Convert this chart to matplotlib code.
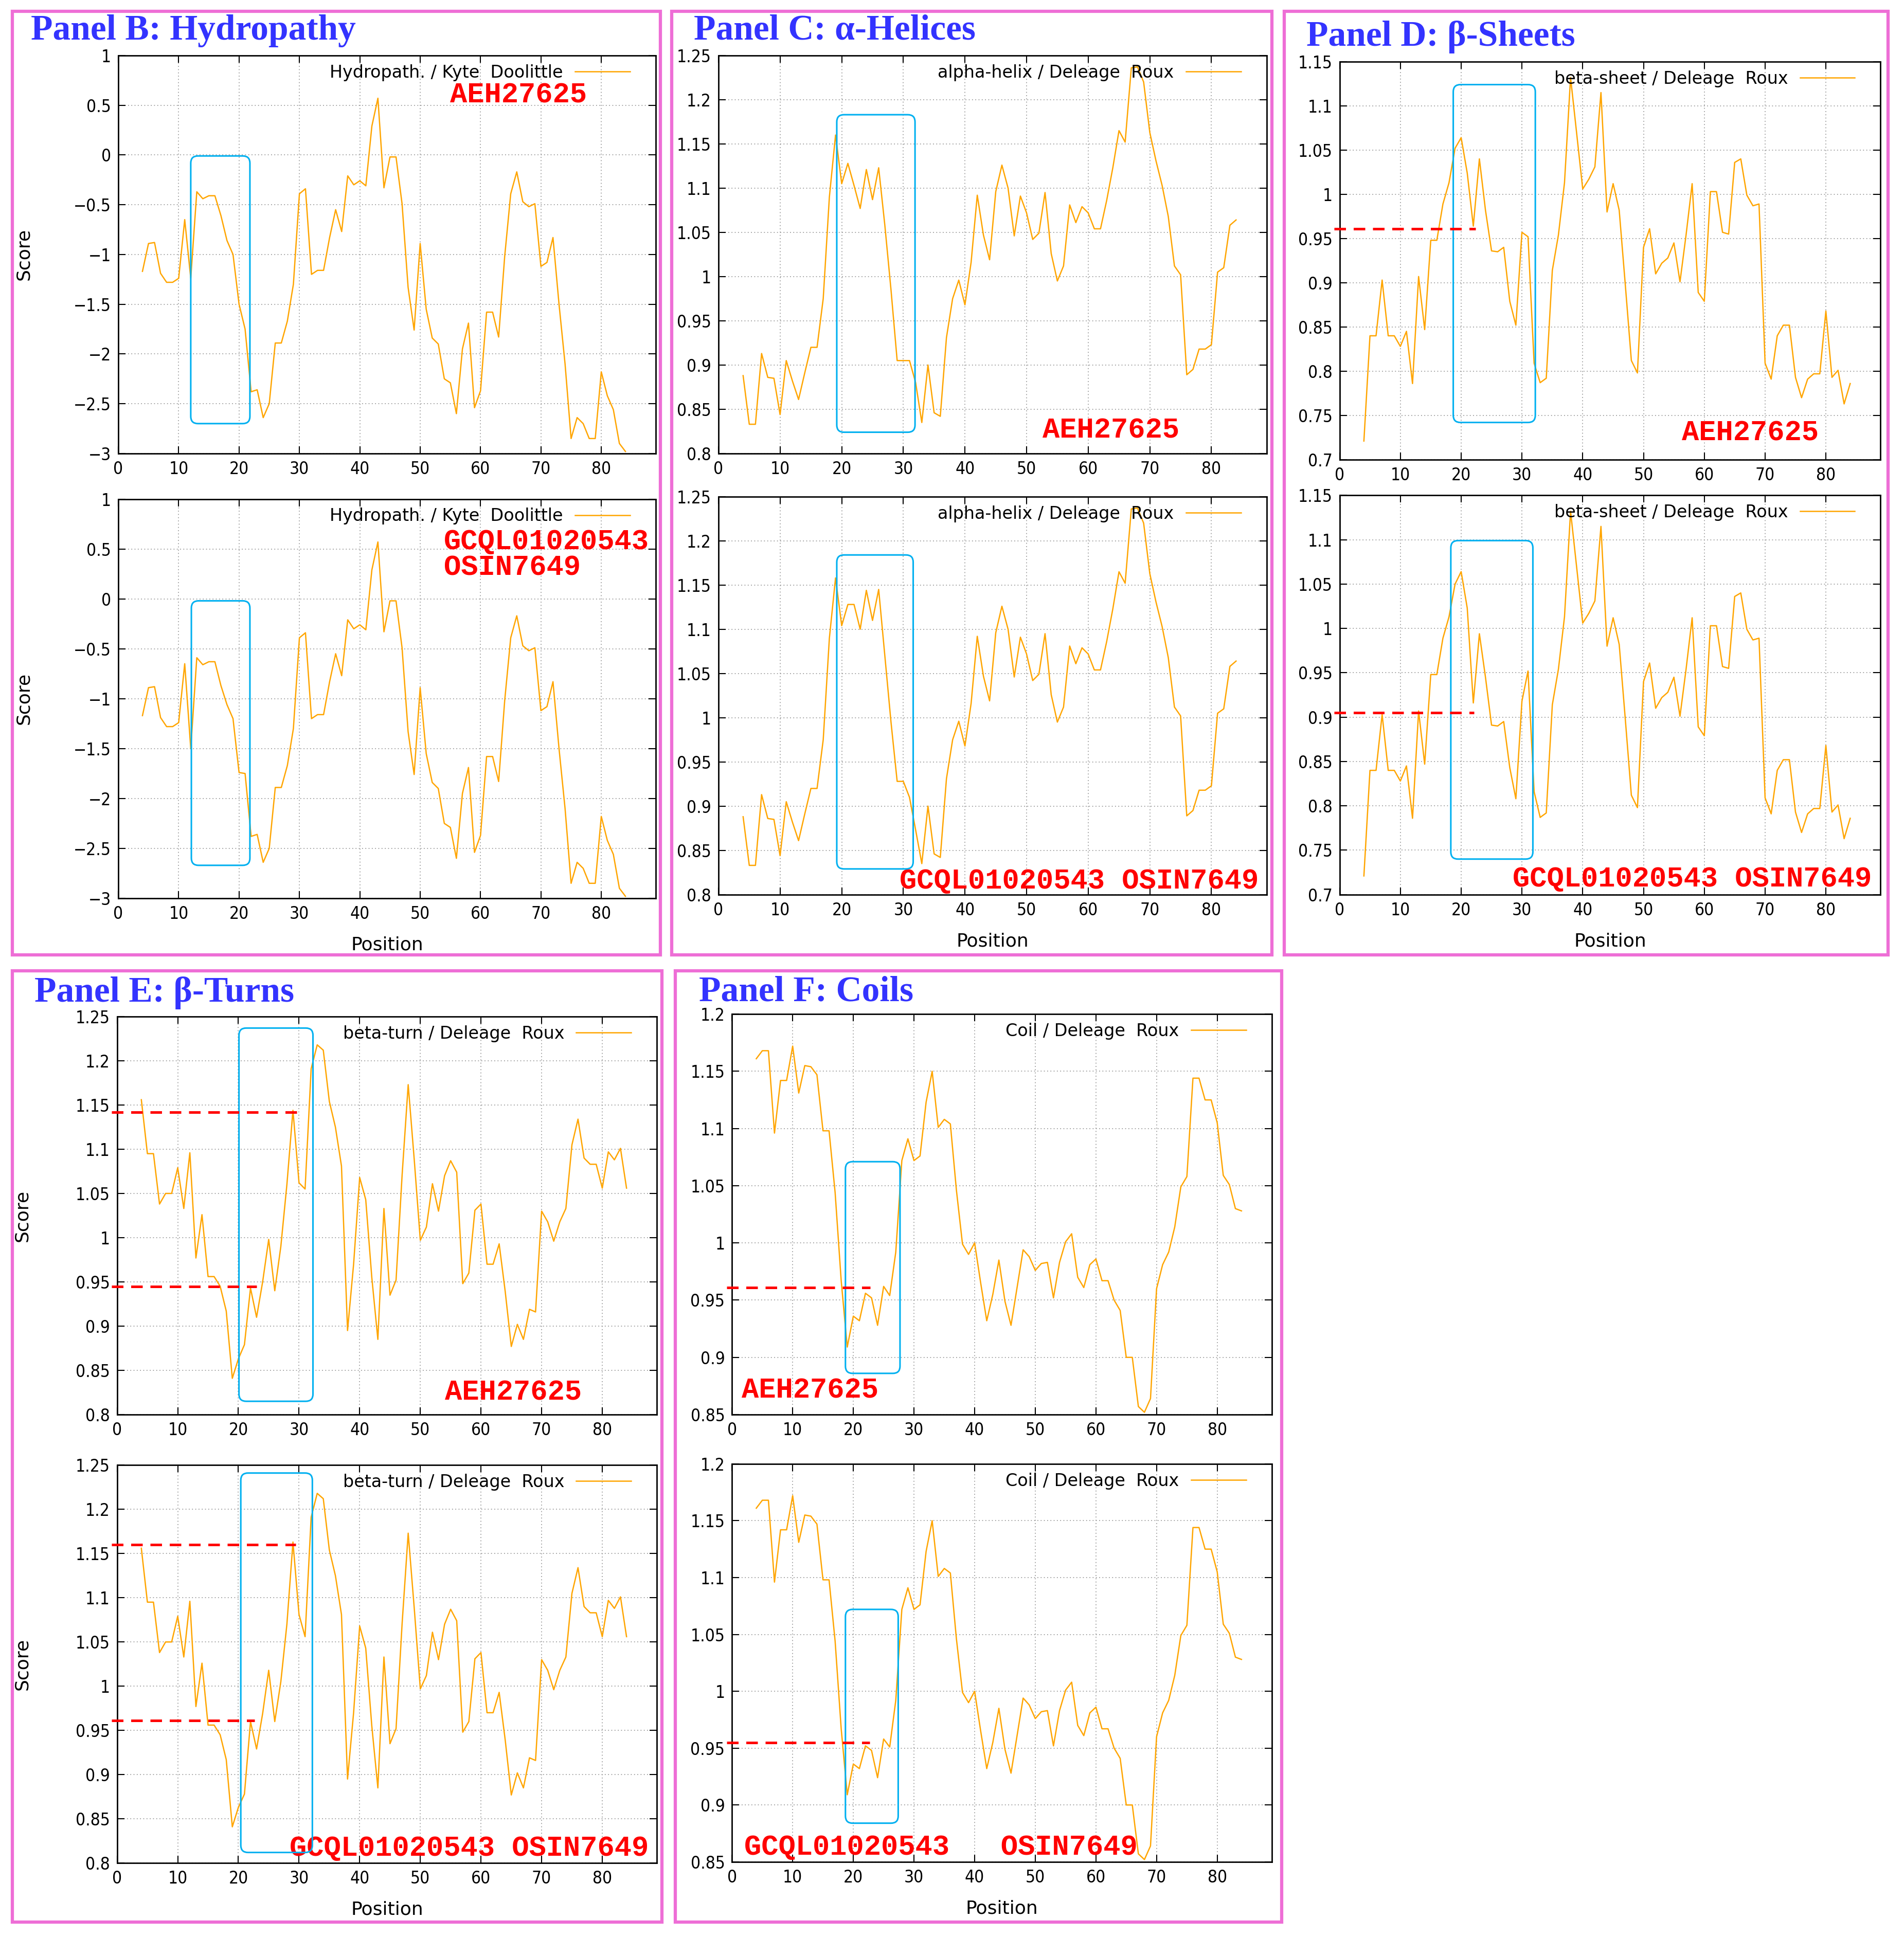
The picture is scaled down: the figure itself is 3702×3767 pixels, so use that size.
import numpy as np
import matplotlib
matplotlib.use('Agg')
import matplotlib.pyplot as plt
from matplotlib.patches import FancyBboxPatch, Rectangle
from matplotlib.ticker import FuncFormatter

# residue positions (window centre) used by every profile
POS = list(range(4, 85))

# Panel B: hydropathy (Kyte Doolittle)
HYDRO_AEH = [-1.17, -0.89, -0.88, -1.19, -1.28, -1.28, -1.24, -0.65, -1.24, -0.37,
             -0.44, -0.41, -0.41, -0.61, -0.86, -1.00, -1.50, -1.75, -2.38, -2.36,
             -2.64, -2.50, -1.89, -1.89, -1.67, -1.30, -0.39, -0.34, -1.20, -1.16,
             -1.16, -0.83, -0.55, -0.77, -0.21, -0.30, -0.26, -0.31, 0.29, 0.57,
             -0.33, -0.02, -0.02, -0.49, -1.33, -1.76, -0.89, -1.55, -1.84, -1.90,
             -2.25, -2.29, -2.60, -1.95, -1.69, -2.54, -2.37, -1.58, -1.58, -1.83,
             -1.02, -0.39, -0.17, -0.47, -0.52, -0.49, -1.12, -1.08, -0.83, -1.50,
             -2.10, -2.85, -2.64, -2.70, -2.85, -2.85, -2.18, -2.42, -2.56, -2.90,
             -2.98]
HYDRO_GCQL = [-1.17, -0.89, -0.88, -1.19, -1.28, -1.28, -1.24, -0.65, -1.50, -0.59,
              -0.66, -0.63, -0.63, -0.87, -1.06, -1.20, -1.74, -1.75, -2.38, -2.36,
              -2.64, -2.50, -1.89, -1.89, -1.67, -1.30, -0.39, -0.34, -1.20, -1.16,
              -1.16, -0.83, -0.55, -0.77, -0.21, -0.30, -0.26, -0.31, 0.29, 0.57,
              -0.33, -0.02, -0.02, -0.49, -1.33, -1.76, -0.89, -1.55, -1.84, -1.90,
              -2.25, -2.29, -2.60, -1.95, -1.69, -2.54, -2.37, -1.58, -1.58, -1.83,
              -1.02, -0.39, -0.17, -0.47, -0.52, -0.49, -1.12, -1.08, -0.83, -1.50,
              -2.10, -2.85, -2.64, -2.70, -2.85, -2.85, -2.18, -2.42, -2.56, -2.90,
              -2.98]

# Panel C: alpha-helix (Deleage Roux)
HELIX_AEH = [0.888, 0.833, 0.833, 0.913, 0.886, 0.885, 0.844, 0.905, 0.882, 0.861,
             0.891, 0.920, 0.920, 0.975, 1.090, 1.160, 1.105, 1.128, 1.103, 1.077,
             1.121, 1.087, 1.123, 1.058, 0.985, 0.905, 0.905, 0.905, 0.880, 0.835,
             0.900, 0.846, 0.842, 0.931, 0.975, 0.996, 0.968, 1.016, 1.092, 1.047,
             1.019, 1.096, 1.126, 1.100, 1.046, 1.091, 1.072, 1.042, 1.049, 1.095,
             1.026, 0.995, 1.012, 1.081, 1.061, 1.079, 1.072, 1.054, 1.054, 1.086,
             1.123, 1.165, 1.152, 1.236, 1.237, 1.220, 1.163, 1.131, 1.103, 1.068,
             1.012, 1.002, 0.889, 0.895, 0.918, 0.918, 0.923, 1.005, 1.010, 1.058,
             1.064]
HELIX_GCQL = [0.888, 0.833, 0.833, 0.913, 0.886, 0.885, 0.844, 0.905, 0.882, 0.861,
              0.891, 0.920, 0.920, 0.975, 1.090, 1.158, 1.104, 1.128, 1.128, 1.100,
              1.144, 1.110, 1.145, 1.070, 0.995, 0.928, 0.928, 0.910, 0.873, 0.835,
              0.900, 0.846, 0.842, 0.931, 0.975, 0.996, 0.968, 1.016, 1.092, 1.047,
              1.019, 1.096, 1.126, 1.100, 1.046, 1.091, 1.072, 1.042, 1.049, 1.095,
              1.026, 0.995, 1.012, 1.081, 1.061, 1.079, 1.072, 1.054, 1.054, 1.086,
              1.123, 1.165, 1.152, 1.236, 1.237, 1.220, 1.163, 1.131, 1.103, 1.068,
              1.012, 1.002, 0.889, 0.895, 0.918, 0.918, 0.923, 1.005, 1.010, 1.058,
              1.064]

# Panel D: beta-sheet (Deleage Roux)
SHEET_AEH = [0.721, 0.840, 0.840, 0.903, 0.840, 0.840, 0.828, 0.845, 0.786, 0.907,
             0.847, 0.948, 0.948, 0.989, 1.013, 1.052, 1.064, 1.024, 0.964, 1.040,
             0.982, 0.936, 0.935, 0.940, 0.879, 0.852, 0.957, 0.952, 0.809, 0.787,
             0.792, 0.914, 0.954, 1.013, 1.132, 1.069, 1.006, 1.017, 1.031, 1.115,
             0.980, 1.012, 0.982, 0.898, 0.812, 0.798, 0.940, 0.961, 0.910, 0.922,
             0.928, 0.945, 0.901, 0.954, 1.012, 0.889, 0.879, 1.003, 1.003, 0.957,
             0.955, 1.036, 1.040, 0.999, 0.987, 0.989, 0.809, 0.791, 0.840, 0.852,
             0.852, 0.793, 0.770, 0.791, 0.797, 0.797, 0.868, 0.793, 0.801, 0.763,
             0.786]
SHEET_GCQL = [0.721, 0.840, 0.840, 0.903, 0.840, 0.840, 0.828, 0.845, 0.786, 0.907,
              0.847, 0.948, 0.948, 0.989, 1.013, 1.050, 1.064, 1.023, 0.916, 0.994,
              0.945, 0.891, 0.890, 0.895, 0.843, 0.808, 0.918, 0.952, 0.816, 0.787,
              0.792, 0.914, 0.954, 1.013, 1.132, 1.069, 1.006, 1.017, 1.031, 1.115,
              0.980, 1.012, 0.982, 0.898, 0.812, 0.798, 0.940, 0.961, 0.910, 0.922,
              0.928, 0.945, 0.901, 0.954, 1.012, 0.889, 0.879, 1.003, 1.003, 0.957,
              0.955, 1.036, 1.040, 0.999, 0.987, 0.989, 0.809, 0.791, 0.840, 0.852,
              0.852, 0.793, 0.770, 0.791, 0.797, 0.797, 0.868, 0.793, 0.801, 0.763,
              0.786]

# Panel E: beta-turn (Deleage Roux)
TURN_AEH = [1.156, 1.095, 1.095, 1.038, 1.050, 1.050, 1.079, 1.033, 1.096, 0.977,
            1.026, 0.956, 0.956, 0.945, 0.917, 0.841, 0.863, 0.879, 0.943, 0.910,
            0.950, 0.998, 0.940, 0.990, 1.060, 1.144, 1.062, 1.055, 1.191, 1.218,
            1.212, 1.154, 1.125, 1.081, 0.895, 0.970, 1.068, 1.043, 0.955, 0.885,
            1.033, 0.935, 0.952, 1.071, 1.173, 1.088, 0.997, 1.012, 1.061, 1.030,
            1.070, 1.087, 1.074, 0.948, 0.960, 1.031, 1.038, 0.970, 0.970, 0.993,
            0.939, 0.877, 0.902, 0.885, 0.919, 0.916, 1.030, 1.018, 0.996, 1.018,
            1.033, 1.105, 1.134, 1.090, 1.083, 1.083, 1.056, 1.097, 1.088, 1.101,
            1.056]
TURN_GCQL = [1.156, 1.095, 1.095, 1.038, 1.050, 1.050, 1.079, 1.033, 1.096, 0.977,
             1.026, 0.956, 0.956, 0.945, 0.917, 0.841, 0.863, 0.878, 0.960, 0.929,
             0.969, 1.018, 0.960, 1.005, 1.070, 1.163, 1.081, 1.056, 1.191, 1.218,
             1.212, 1.154, 1.125, 1.081, 0.895, 0.970, 1.068, 1.043, 0.955, 0.885,
             1.033, 0.935, 0.952, 1.071, 1.173, 1.088, 0.997, 1.012, 1.061, 1.030,
             1.070, 1.087, 1.074, 0.948, 0.960, 1.031, 1.038, 0.970, 0.970, 0.993,
             0.939, 0.877, 0.902, 0.885, 0.919, 0.916, 1.030, 1.018, 0.996, 1.018,
             1.033, 1.105, 1.134, 1.090, 1.083, 1.083, 1.056, 1.097, 1.088, 1.101,
             1.056]

# Panel F: coil (Deleage Roux)
COIL_AEH = [1.161, 1.168, 1.168, 1.096, 1.142, 1.142, 1.172, 1.131, 1.155, 1.154,
            1.147, 1.098, 1.098, 1.044, 0.967, 0.909, 0.936, 0.932, 0.956, 0.952,
            0.928, 0.962, 0.954, 0.992, 1.072, 1.091, 1.072, 1.076, 1.123, 1.150,
            1.101, 1.108, 1.104, 1.046, 0.999, 0.990, 1.000, 0.965, 0.932, 0.955,
            0.985, 0.949, 0.928, 0.961, 0.994, 0.988, 0.976, 0.982, 0.983, 0.952,
            0.983, 1.001, 1.008, 0.970, 0.961, 0.981, 0.986, 0.967, 0.967, 0.950,
            0.941, 0.900, 0.900, 0.857, 0.852, 0.864, 0.960, 0.981, 0.992, 1.014,
            1.049, 1.058, 1.144, 1.144, 1.125, 1.125, 1.105, 1.059, 1.051, 1.030,
            1.028]
COIL_GCQL = [1.161, 1.168, 1.168, 1.096, 1.142, 1.142, 1.172, 1.131, 1.155, 1.154,
             1.147, 1.098, 1.098, 1.044, 0.967, 0.909, 0.936, 0.932, 0.952, 0.948,
             0.924, 0.958, 0.951, 0.992, 1.072, 1.091, 1.072, 1.076, 1.123, 1.150,
             1.101, 1.108, 1.104, 1.046, 0.999, 0.990, 1.000, 0.965, 0.932, 0.955,
             0.985, 0.949, 0.928, 0.961, 0.994, 0.988, 0.976, 0.982, 0.983, 0.952,
             0.983, 1.001, 1.008, 0.970, 0.961, 0.981, 0.986, 0.967, 0.967, 0.950,
             0.941, 0.900, 0.900, 0.857, 0.852, 0.864, 0.960, 0.981, 0.992, 1.014,
             1.049, 1.058, 1.144, 1.144, 1.125, 1.125, 1.105, 1.059, 1.051, 1.030,
             1.028]

# highlighted regions: (x0, x1, y0, y1) in data units
BOX_B = [(12.0, 21.8, -2.70, -0.01), (12.1, 21.8, -2.67, -0.02)]
BOX_C = [(19.2, 31.9, 0.824, 1.183), (19.2, 31.6, 0.829, 1.184)]
BOX_D = [(18.7, 32.2, 0.742, 1.124), (18.3, 31.8, 0.740, 1.099)]
BOX_E = [(20.1, 32.3, 0.815, 1.237), (20.4, 32.2, 0.812, 1.241)]
BOX_F = [(18.7, 27.7, 0.886, 1.071), (18.7, 27.4, 0.884, 1.072)]

# red dashed reference levels: (x_end, y)
DASH_D = [[(22.4, 0.961)], [(22.1, 0.905)]]
DASH_E = [[(29.7, 1.142), (23.0, 0.945)], [(29.5, 1.160), (22.7, 0.961)]]
DASH_F = [[(22.8, 0.961)], [(22.7, 0.955)]]

SEQ_TOP = 'AEH27625'
SEQ_BOTTOM = 'GCQL01020543 OSIN7649'

ORANGE = '#FFA500'
CYAN = '#00B0F0'
PINK = '#EE6ED6'
TITLE_BLUE = '#3333FF'

# layout measured on a 1545 x 1572 grid of the reference
GW, GH = 1545.0, 1572.0


def rect(x0, y0, x1, y1):
    return [x0 / GW, 1 - y1 / GH, (x1 - x0) / GW, (y1 - y0) / GH]


plt.rcParams['font.family'] = 'DejaVu Sans'
plt.rcParams['axes.unicode_minus'] = True

fig = plt.figure(figsize=(37.02, 37.67), dpi=100)
fig.patch.set_facecolor('white')

LEGEND_FONT = {'family': 'DejaVu Sans', 'stretch': 'normal', 'size': 24}
LABEL_FONT = {'family': 'DejaVu Sans', 'stretch': 'normal', 'size': 26}


def fmt(v, pos):
    s = '%g' % round(v, 4)
    return s.replace('-', '\u2212')


def profile(r, values, ylim, legend, seq, seq_xy, box, dashes=(),
            score=False, position=False, seq2=None):
    ax = fig.add_axes(rect(*r))
    ax.plot(POS, values, color=ORANGE, lw=1.8, label=legend)
    ax.set_xlim(0, 89)
    ax.set_ylim(ylim[0], ylim[1])
    ax.set_xticks(range(0, 81, 10))
    ax.set_yticks(np.arange(ylim[0], ylim[1] + ylim[2] / 2, ylim[2]))
    ax.yaxis.set_major_formatter(FuncFormatter(fmt))
    ax.tick_params(direction='in', length=10, width=1.5, top=True, right=True,
                   labelsize=24, pad=10)
    for lab in ax.get_xticklabels() + ax.get_yticklabels():
        lab.set_fontstretch('condensed')
    ax.grid(True, ls=(0, (1, 2.5)), color='#9a9a9a', lw=1.3)
    for sp in ax.spines.values():
        sp.set_linewidth(2)
    ax.legend(loc='upper right', bbox_to_anchor=(0.972, 1.005), frameon=False,
              markerfirst=False, prop=LEGEND_FONT, handlelength=3.2, borderpad=0.12,
              handletextpad=0.7)
    if score:
        ax.set_ylabel('Score', fontdict=LABEL_FONT)
        ax.yaxis.set_label_coords(-0.16, 0.5)
    if position:
        ax.set_xlabel('Position', fontdict=LABEL_FONT)
        ax.xaxis.set_label_coords(0.5, -0.095)

    ax.text(seq_xy[0], seq_xy[1], seq, transform=ax.transAxes, color='red',
            family='Liberation Mono', weight='bold', fontsize=40, va='center')
    if seq2 is not None:
        ax.text(seq2[0], seq2[1], seq2[2], transform=ax.transAxes, color='red',
                family='Liberation Mono', weight='bold', fontsize=40, va='center')

    # rounded highlight box, corners kept circular on screen
    pos = ax.get_position()
    fw, fh = fig.get_size_inches() * fig.dpi
    xpp = 89.0 / (pos.width * fw)
    ypp = (ylim[1] - ylim[0]) / (pos.height * fh)
    x0, x1, y0, y1 = box
    patch = FancyBboxPatch((x0, y0), x1 - x0, y1 - y0,
                           boxstyle='round,pad=0,rounding_size=%f' % (14 * xpp),
                           mutation_aspect=ypp / xpp, transform=ax.transData,
                           fill=False, ec=CYAN, lw=2.2, clip_on=False, zorder=4)
    ax.add_patch(patch)

    for xe, yv in dashes:
        ax.plot([-0.9, xe], [yv, yv], color='red', lw=3.6, ls=(0, (4.5, 3)),
                clip_on=False, zorder=5)
    return ax


# Panel B
profile((96, 45, 532, 368), HYDRO_AEH, (-3, 1, 0.5), 'Hydropath. / Kyte  Doolittle',
        SEQ_TOP, (0.617, 0.90), BOX_B[0], score=True)
profile((96, 405, 532, 729), HYDRO_GCQL, (-3, 1, 0.5), 'Hydropath. / Kyte  Doolittle',
        'GCQL01020543', (0.606, 0.892), BOX_B[1], score=True, position=True,
        seq2=(0.606, 0.827, 'OSIN7649'))

# Panel C
profile((583, 45, 1028, 368), HELIX_AEH, (0.8, 1.25, 0.05), 'alpha-helix / Deleage  Roux',
        SEQ_TOP, (0.591, 0.058), BOX_C[0])
profile((583, 403, 1028, 726), HELIX_GCQL, (0.8, 1.25, 0.05), 'alpha-helix / Deleage  Roux',
        SEQ_BOTTOM, (0.33, 0.033), BOX_C[1], position=True)

# Panel D
profile((1087, 50, 1526, 373), SHEET_AEH, (0.7, 1.15, 0.05), 'beta-sheet / Deleage  Roux',
        SEQ_TOP, (0.633, 0.067), BOX_D[0], dashes=DASH_D[0])
profile((1087, 402, 1526, 726), SHEET_GCQL, (0.7, 1.15, 0.05), 'beta-sheet / Deleage  Roux',
        SEQ_BOTTOM, (0.32, 0.038), BOX_D[1], dashes=DASH_D[1], position=True)

# Panel E
profile((95, 825, 533, 1148), TURN_AEH, (0.8, 1.25, 0.05), 'beta-turn / Deleage  Roux',
        SEQ_TOP, (0.607, 0.055), BOX_E[0], dashes=DASH_E[0], score=True)
profile((95, 1189, 533, 1512), TURN_GCQL, (0.8, 1.25, 0.05), 'beta-turn / Deleage  Roux',
        SEQ_BOTTOM, (0.32, 0.036), BOX_E[1], dashes=DASH_E[1], score=True, position=True)

# Panel F
profile((594, 823, 1032, 1148), COIL_AEH, (0.85, 1.2, 0.05), 'Coil / Deleage  Roux',
        SEQ_TOP, (0.018, 0.06), BOX_F[0], dashes=DASH_F[0])
profile((594, 1188, 1032, 1511), COIL_GCQL, (0.85, 1.2, 0.05), 'Coil / Deleage  Roux',
        'GCQL01020543   OSIN7649', (0.023, 0.036), BOX_F[1], dashes=DASH_F[1], position=True)

# panel frames and titles
frames = [(10, 9, 536, 775), (545, 9, 1032, 775), (1042, 9, 1532, 775),
          (10, 788, 537, 1560), (548, 788, 1040, 1560)]
for x0, y0, x1, y1 in frames:
    l, b, w, h = rect(x0, y0, x1, y1)
    fig.add_artist(Rectangle((l, b), w, h, transform=fig.transFigure, fill=False,
                             ec=PINK, lw=4.5))

titles = [(25, 25, 'Panel B: Hydropathy'), (563, 25, 'Panel C: \u03b1-Helices'),
          (1060, 30, 'Panel D: \u03b2-Sheets'), (28, 806, 'Panel E: \u03b2-Turns'),
          (567, 805, 'Panel F: Coils')]
for x, y, t in titles:
    fig.text(x / GW, 1 - y / GH, t, family='Liberation Serif', weight='bold',
             fontsize=50, color=TITLE_BLUE, va='center', ha='left')

fig.savefig('out.png', dpi=100, facecolor='white')
